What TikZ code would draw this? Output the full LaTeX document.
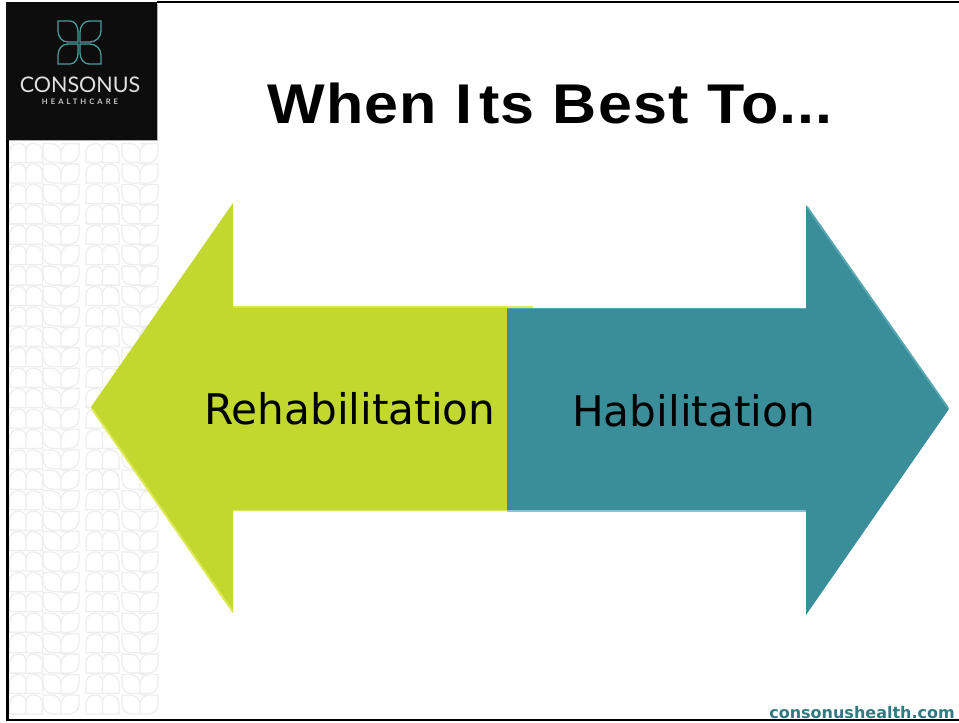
\documentclass[tikz,border=0pt]{standalone}
\usepackage{fontspec}
\setmainfont{DejaVu Sans}
\newfontfamily\titlefont[FakeStretch=1.09,LetterSpace=2.2]{Liberation Sans}
\newfontfamily\logofont{Lato}
\newfontfamily\logospaced[LetterSpace=40]{Lato}
\newfontfamily\webfont{DejaVu Sans}
\definecolor{lime}{HTML}{C2D82E}
\definecolor{limelight}{HTML}{DDE95A}
\definecolor{teal2}{HTML}{3A8E9A}
\definecolor{teallight}{HTML}{58A6B0}
\definecolor{tealicon}{HTML}{4A9C9C}
\definecolor{patterngray}{HTML}{EEEEEE}
\tikzset{
  leafline/.style={draw=patterngray,line width=1.3pt},
  petal/.style={draw=tealicon,line width=1.3pt},
  frame/.style={draw=black,line width=2.4pt},
  arrowlabel/.style={anchor=base west,inner sep=0pt,text=black,font=\fontsize{42.2}{42.2}\selectfont},
}
% group with rounded top corners (x, y)
\newcommand{\capgroup}[2]{%
  \draw[leafline,shift={(#1,#2)}] (16.5,19) -- (0,19) -- (0,9) .. controls (0,3) and (4,0) .. (10,0) .. controls (14,0) and (16.5,3) .. (16.5,8) -- (16.5,19) -- (33,19) -- (33,9) .. controls (33,3) and (29,0) .. (23,0) .. controls (19,0) and (16.5,3) .. (16.5,8);}
% group with rounded bottom corners (x, y)
\newcommand{\cupgroup}[2]{%
  \draw[leafline,shift={(#1,#2)}] (18,0) -- (36,0) -- (36,9) .. controls (36,15) and (32,19) .. (26,19) -- (10,19) .. controls (4,19) and (0,15) .. (0,9) -- (0,0) -- (8,0) .. controls (14,0) and (18,4) .. (18,10) -- (18,19) (18,10) .. controls (18,4) and (22,0) .. (28,0);}
\begin{document}
\begin{tikzpicture}[x=1pt,y=-1pt]
\useasboundingbox (0,0) rectangle (959,723);
\fill[white] (0,0) rectangle (959,723);
% background pattern
\begin{scope}
\clip (8,140) rectangle (159,718);
\foreach \k in {0,...,27}{
  \pgfmathsetmacro{\yy}{143.6+20.42*\k}
  \capgroup{9.5}{\yy}
  \cupgroup{43}{\yy}
  \capgroup{86}{\yy}
  \cupgroup{122}{\yy}
}
\end{scope}
% logo block
\fill[black!95] (6,2) rectangle (157,140);
\draw[gray!60,line width=0.8pt] (7,140.5) -- (157.5,140.5) -- (157.5,4);
% logo mark
\draw[petal] (58,21) -- (70,21) .. controls (75,21) and (78,26) .. (78,32) -- (78,42) -- (68,42) .. controls (62,42) and (58,37) .. (58,31) -- cycle;
\draw[petal] (101,21) -- (89,21) .. controls (84,21) and (80,26) .. (80,32) -- (80,42) -- (90,42) .. controls (96,42) and (101,37) .. (101,31) -- cycle;
\draw[petal] (58,64) -- (70,64) .. controls (75,64) and (78,59) .. (78,53) -- (78,44) -- (68,44) .. controls (62,44) and (58,49) .. (58,55) -- cycle;
\draw[petal] (101,64) -- (89,64) .. controls (84,64) and (80,59) .. (80,53) -- (80,44) -- (90,44) .. controls (96,44) and (101,49) .. (101,55) -- cycle;
\node[anchor=base,inner sep=0pt,text=white!88!black,font=\logofont\fontsize{21.5}{21.5}\selectfont] (brand) at (80,92) {CONSONUS};
\node[anchor=base,inner sep=0pt,text=white!80!black,font=\logospaced\bfseries\fontsize{7.6}{7.6}\selectfont] (brandsub) at (80,104) {HEALTHCARE};
% frame
\draw[frame] (157,2.2) -- (959,2.2);
\draw[draw=black,line width=3pt] (7.5,140) -- (7.5,720);
\draw[draw=black,line width=2.4pt] (6,719.8) -- (959,719.8);
% title
\node[anchor=base west,inner sep=0pt,font=\titlefont\bfseries\fontsize{56}{56}\selectfont] (title) at (267,123) {When I\hspace{7pt}ts Best To...};
% arrows
\fill[limelight] (233,306) -- (533,306) -- (533,309) -- (233,309) -- cycle;
\fill[lime] (91,407) -- (233,203) -- (233,307.5) -- (507,307.5) -- (507,511) -- (233,511) -- (233,613) -- cycle;
\draw[limelight,line width=2pt] (92,409) -- (233,612);
\draw[limelight,line width=1pt] (233,510.5) -- (507,510.5);
\fill[teal2] (949,409) -- (806,205) -- (806,308) -- (507,308) -- (507,511) -- (806,511) -- (806,615) -- cycle;
\draw[teallight,line width=2pt] (807,207) -- (948,408);
\draw[teallight,line width=1pt] (507,308.5) -- (806,308.5);
\draw[cyan!40!teal2!60!white,line width=1.2pt] (507,511) -- (806,511);
% labels
\node[arrowlabel] (rehab) at (204,424) {Rehabilitation};
\node[arrowlabel] (hab) at (572,426) {Habilitation};
% website
\node[anchor=base east,inner sep=0pt,text=teal2!85!black,font=\webfont\bfseries\fontsize{16}{16}\selectfont] (web) at (955,718.5) {consonushealth.com};
\end{tikzpicture}
\end{document}
